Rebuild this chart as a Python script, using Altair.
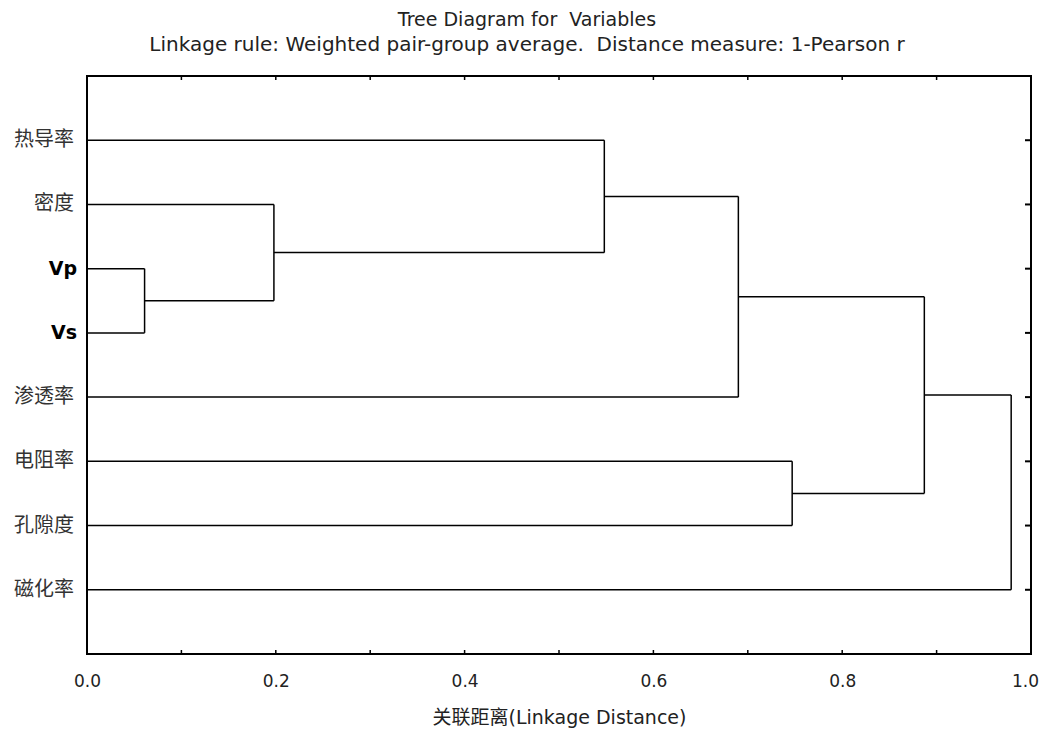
import altair as alt
import pandas as pd

# ---- data ----
leaves = ["热导率", "密度", "Vp", "Vs", "渗透率", "电阻率", "孔隙度", "磁化率"]
# agglomeration steps: ids < 8 are leaves, id 8+k is the cluster made at step k
merge_a = [2, 1, 0, 10, 5, 11, 13]
merge_b = [3, 8, 9, 4, 6, 12, 7]
merge_height = [0.061, 0.198, 0.548, 0.690, 0.747, 0.887, 0.979]
x_tick_labels = [0.0, 0.2, 0.4, 0.6, 0.8, 1.0]
x_minor_ticks = [0.1, 0.2, 0.3, 0.4, 0.5, 0.6, 0.7, 0.8, 0.9]

# ---- build dendrogram segments ----
pos = {i: (0.0, float(i + 1)) for i in range(len(leaves))}
segs = []
for k, (a, b, h) in enumerate(zip(merge_a, merge_b, merge_height)):
    ha, ya = pos[a]
    hb, yb = pos[b]
    segs.append(dict(x=ha, x2=h, y=ya, y2=ya))
    segs.append(dict(x=hb, x2=h, y=yb, y2=yb))
    segs.append(dict(x=h, x2=h, y=ya, y2=yb))
    pos[len(leaves) + k] = (h, (ya + yb) / 2)
seg_df = pd.DataFrame(segs)
leaf_df = pd.DataFrame({"name": leaves, "row": [i + 1 for i in range(len(leaves))],
                        "bold": [n in ("Vp", "Vs") for n in leaves]})
minor_df = pd.DataFrame({"t": x_minor_ticks})

W, H = 944, 578
FONT = "DejaVu Sans, Noto Sans CJK SC"
CN = "Noto Sans CJK SC"
NB = "\u00a0"

xs = alt.Scale(domain=[0, 1], nice=False, zero=False)
ys = alt.Scale(domain=[0, 9], reverse=True, nice=False, zero=False)

lines = alt.Chart(seg_df).mark_rule(color="black", strokeWidth=1.5).encode(
    x=alt.X("x:Q", scale=xs, axis=alt.Axis(
        values=x_tick_labels, format=".1f", title="关联距离(Linkage Distance)",
        domain=False, ticks=False, grid=False, labelFontSize=17, labelPadding=19,
        labelFlush=False,
        labelOffset={"condition": {"test": "datum.value == 1", "value": -6}, "value": 0},
        labelColor="#222", titleFontSize=19, titleFontWeight="normal",
        titleColor="#222", titlePadding=19, labelFont=FONT, titleFont=FONT)),
    x2="x2:Q",
    y=alt.Y("y:Q", scale=ys, axis=None),
    y2="y2:Q",
)

labels_cn = alt.Chart(leaf_df).transform_filter("!datum.bold").mark_text(
    align="right", baseline="middle", dx=-13, font=CN, fontSize=20, color="#333"
).encode(x=alt.value(0), y=alt.Y("row:Q", scale=ys), text="name:N")

labels_b = alt.Chart(leaf_df).transform_filter("datum.bold").mark_text(
    align="right", baseline="middle", dx=-10, font=FONT, fontSize=19,
    fontWeight="bold", color="black"
).encode(x=alt.value(0), y=alt.Y("row:Q", scale=ys), text="name:N")

right_ticks = alt.Chart(leaf_df).mark_rule(color="black", strokeWidth=2).encode(
    y=alt.Y("row:Q", scale=ys), x=alt.value(W - 6), x2=alt.value(W))

top_ticks = alt.Chart(minor_df).mark_rule(color="black", strokeWidth=1.5).encode(
    x=alt.X("t:Q", scale=xs), y=alt.value(0), y2=alt.value(4))
bottom_ticks = alt.Chart(minor_df).mark_rule(color="black", strokeWidth=1.5).encode(
    x=alt.X("t:Q", scale=xs), y=alt.value(H - 4), y2=alt.value(H))

chart = alt.layer(lines, labels_cn, labels_b, right_ticks, top_ticks, bottom_ticks).properties(
    width=W, height=H,
    title=alt.TitleParams(
        text="Tree Diagram for" + NB + " Variables",
        subtitle="Linkage rule: Weighted pair-group average." + NB + " Distance measure: 1-Pearson r",
        font=FONT, fontSize=19, fontWeight="normal", color="#222",
        subtitleFont=FONT, subtitleFontSize=20, subtitleColor="#222",
        subtitlePadding=5, offset=20, anchor="middle", dx=-32),
    autosize=alt.AutoSizeParams(type="none"),
    padding={"left": 79, "top": 68, "right": 8, "bottom": 76},
    background="white",
).configure_view(stroke="black", strokeWidth=2)

chart.save("out.html", embed_options={"renderer": "svg", "actions": False})
